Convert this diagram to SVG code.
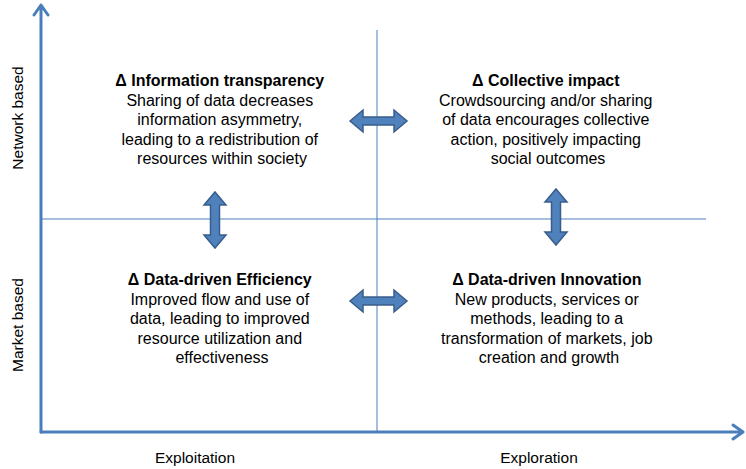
<svg xmlns="http://www.w3.org/2000/svg" width="746" height="469" viewBox="0 0 746 469">
<style>
.ax{stroke:#4A7EBB;stroke-width:3;fill:none;stroke-linecap:round;stroke-linejoin:round}
.div{stroke:#4A7EBB;stroke-width:1;fill:none}
.dbl{fill:#4F81BD;stroke:#385D8A;stroke-width:1.5;stroke-linejoin:miter}
text{font-family:"Liberation Sans",Arial,sans-serif;font-size:16px;fill:#000}
.h{font-weight:bold}
.c{text-anchor:middle}
.s{font-size:15.5px}
</style>
<rect width="746" height="469" fill="#fff"/>
<g id="connectors">
<line class="div" x1="377" y1="30" x2="377" y2="432"/>
<line class="div" x1="41" y1="219" x2="706" y2="219"/>
<path class="ax" d="M41 432 V5 M34 15 L41 5 L48 15"/>
<path class="ax" d="M41 432 H743 M733 425 L743 432 L733 439"/>
<path class="dbl" d="M350 121 L363 110 V117 H394 V110 L407 121 L394 132 V125 H363 V132 Z"/>
<path class="dbl" d="M350 301 L363 290 V297 H394 V290 L407 301 L394 312 V305 H363 V312 Z"/>
<path class="dbl" d="M215 192 L226 205 H219.5 V235 H226 L215 248 L204 235 H210.5 V205 H204 Z"/>
<path class="dbl" d="M556 189 L567 202 H560.5 V232 H567 L556 245 L545 232 H551.5 V202 H545 Z"/>
</g>
<g id="axis-labels">
<text class="c s" transform="translate(23 118) rotate(-90)">Network based</text>
<text class="c s" transform="translate(23 325) rotate(-90)">Market based</text>
<text class="c s" x="195" y="463">Exploitation</text>
<text class="c s" x="539" y="463">Exploration</text>
</g>
<g id="information-transparency">
<text class="c" x="222" y="86"><tspan class="h">Δ Information transparency</tspan>
<tspan x="222" dy="19.5">Sharing of data decreases</tspan>
<tspan x="222" dy="19.5">information asymmetry,</tspan>
<tspan x="222" dy="19.5">leading to a redistribution of</tspan>
<tspan x="222" dy="19.5">resources within society</tspan></text>
</g>
<g id="collective-impact">
<text class="c" x="548" y="86"><tspan class="h">Δ Collective impact</tspan>
<tspan x="548" dy="19.5">Crowdsourcing and/or sharing</tspan>
<tspan x="548" dy="19.5">of data encourages collective</tspan>
<tspan x="548" dy="19.5">action, positively impacting</tspan>
<tspan x="548" dy="19.5">social outcomes</tspan></text>
</g>
<g id="data-driven-efficiency">
<text class="c" x="222" y="285"><tspan class="h">Δ Data-driven Efficiency</tspan>
<tspan x="222" dy="19.5">Improved flow and use of</tspan>
<tspan x="222" dy="19.5">data, leading to improved</tspan>
<tspan x="222" dy="19.5">resource utilization and</tspan>
<tspan x="222" dy="19.5">effectiveness</tspan></text>
</g>
<g id="data-driven-innovation">
<text class="c" x="549" y="285"><tspan class="h">Δ Data-driven Innovation</tspan>
<tspan x="549" dy="19.5">New products, services or</tspan>
<tspan x="549" dy="19.5">methods, leading to a</tspan>
<tspan x="549" dy="19.5">transformation of markets, job</tspan>
<tspan x="549" dy="19.5">creation and growth</tspan></text>
</g>
</svg>
